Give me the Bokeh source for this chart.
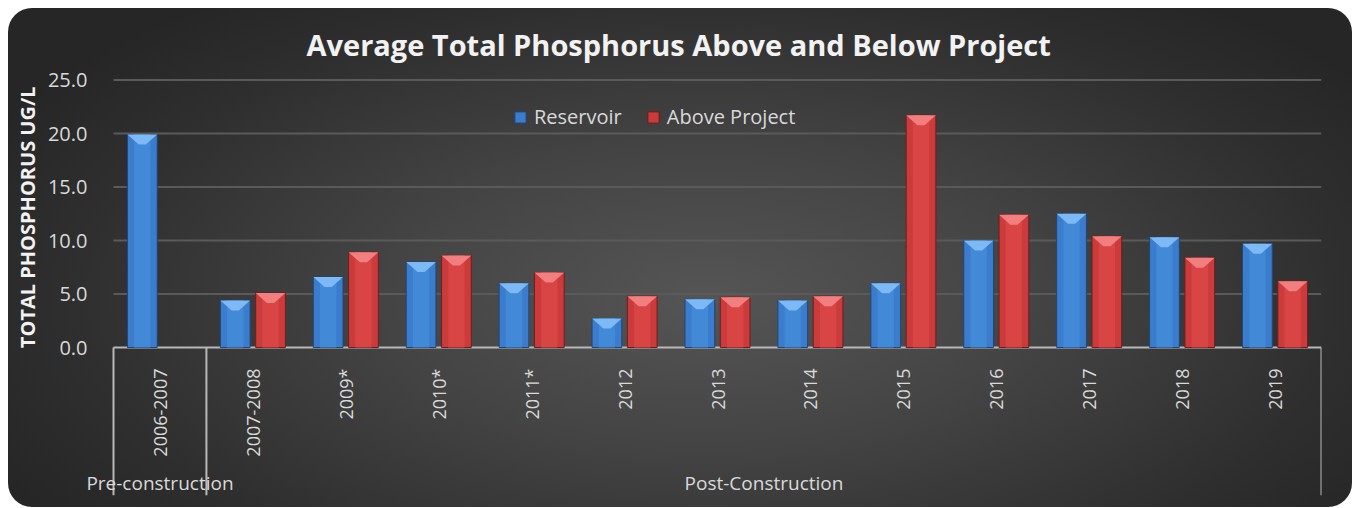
import math
from bokeh.plotting import figure
from bokeh.models import (Range1d, FixedTicker, NumeralTickFormatter, LinearAxis,
                          Legend, LegendItem, Title, ColumnDataSource)
from bokeh.embed import file_html
from bokeh.resources import INLINE

# ---------------- data ----------------
periods = ["2006-2007", "2007-2008", "2009*", "2010*", "2011*", "2012", "2013",
           "2014", "2015", "2016", "2017", "2018", "2019"]
phases = ["Pre-construction"] + ["Post-Construction"] * 12
reservoir = [19.9, 4.4, 6.6, 8.0, 6.0, 2.7, 4.5, 4.4, 6.0, 10.0, 12.5, 10.3, 9.7]
above_project = [None, 5.1, 8.9, 8.6, 7.0, 4.8, 4.7, 4.8, 21.7, 12.4, 10.4, 8.4, 6.2]
y_ticks = [0, 5, 10, 15, 20, 25]

TITLE = "Average Total Phosphorus Above and Below Project"
Y_LABEL = "TOTAL PHOSPHORUS UG/L"
FONT = "Open Sans"

# ---------------- layout constants ----------------
W, H = 1344, 499
B_LEFT, B_RIGHT, B_TOP, B_BOTTOM = 35, 31, 63, 12
TOP_PAD_PX = 8                   # room above the 25.0 gridline
GRID_PX = 268                    # pixels from 0 to the top tick
BELOW_PX = 148                   # category area below 0
CAT_PX = 1208                    # pixels spanned by all categories
TOP_TICK = 25.05
frame_w = W - B_LEFT - B_RIGHT
ppu = GRID_PX / TOP_TICK         # pixels per y unit
Y_MAX = TOP_TICK + TOP_PAD_PX / ppu
Y_MIN = -BELOW_PX / ppu
n = len(periods)
X_MIN = -(frame_w - CAT_PX) / (CAT_PX / n)
OFF = 0.19                       # dodge offset (fraction of category)
BW = 0.32                        # bar width (fraction of category)

p = figure(x_range=Range1d(X_MIN, n), y_range=Range1d(Y_MIN, Y_MAX), width=W, height=H,
           output_backend="svg", toolbar_location=None, title=TITLE,
           min_border_left=B_LEFT, min_border_right=B_RIGHT,
           min_border_top=B_TOP, min_border_bottom=B_BOTTOM)

p.styles = {
    "margin-left": "8px",
    "margin-top": "8px",
    "background": "radial-gradient(ellipse 60% 75% at 52% 58%, #555555 0%, #444444 40%, #2e2e2e 80%, #262626 100%)",
    "border-radius": "24px",
    "overflow": "hidden",
}
p.background_fill_alpha = 0
p.border_fill_alpha = 0
p.outline_line_color = None
p.xgrid.visible = False
p.ygrid.visible = False

# title
p.title.text_font = FONT
p.title.text_font_size = "29px"
p.title.text_font_style = "bold"
p.title.text_color = "#f2f2f2"
p.title.align = "left"
p.title.offset = 263
p.title.standoff = 15

# ---------------- category geometry ----------------
centers = [i + 0.5 for i in range(n)]
bounds = [0] + [i for i in range(1, n) if phases[i] != phases[i - 1]] + [n]
group_names = [phases[b] for b in bounds[:-1]]
group_centers = [(a + b) / 2 for a, b in zip(bounds[:-1], bounds[1:])]

# ---------------- y axis (at first category boundary) ----------------
ya = p.yaxis[0]
ya.fixed_location = 0
ya.ticker = FixedTicker(ticks=y_ticks)
ya.formatter = NumeralTickFormatter(format="0.0")
ya.axis_line_color = None
ya.major_tick_line_color = None
ya.minor_tick_line_color = None
ya.major_label_text_font = FONT
ya.major_label_text_font_size = "20px"
ya.major_label_text_color = "#d9d9d9"
ya.major_label_standoff = 20

ylab = Title(text=Y_LABEL, align="right", offset=7 + TOP_PAD_PX, standoff=6,
             text_font=FONT, text_font_size="20px", text_font_style="bold",
             text_color="#f2f2f2")
p.add_layout(ylab, "left")

# gridlines
grid_y = [t for t in y_ticks if t > 0]
p.segment(x0=[0] * len(grid_y), y0=grid_y, x1=[n] * len(grid_y), y1=grid_y,
          line_color="#5a5a5a", line_width=2)

# ---------------- x axes (drawn at value 0) ----------------
xa = p.xaxis[0]
xa.fixed_location = 0
xa.ticker = FixedTicker(ticks=centers)
xa.major_label_overrides = {c: lab for c, lab in zip(centers, periods)}
xa.axis_line_color = None
xa.major_tick_line_color = None
xa.minor_tick_line_color = None
xa.major_label_orientation = math.pi / 2
xa.major_label_text_font = FONT
xa.major_label_text_font_size = "18px"
xa.major_label_text_color = "#d9d9d9"
xa.major_label_standoff = 15

ga = LinearAxis(fixed_location=0, ticker=FixedTicker(ticks=group_centers),
                major_label_overrides={c: g for c, g in zip(group_centers, group_names)},
                axis_line_color=None, major_tick_line_color=None,
                minor_tick_line_color=None, major_label_standoff=116,
                major_label_text_font=FONT, major_label_text_font_size="19px",
                major_label_text_color="#d9d9d9")
p.add_layout(ga, "below")

# axis line and full-depth group separators
p.segment(x0=[0], y0=[0], x1=[n], y1=[0], line_color="#b8b8b8", line_width=2)
p.segment(x0=bounds, y0=[0] * len(bounds), x1=bounds, y1=[Y_MIN] * len(bounds),
          line_color="#b8b8b8", line_width=2)

# ---------------- bars ----------------
res_src = ColumnDataSource(dict(x=[c - OFF for c in centers], top=reservoir))
ab_x = [c + OFF for c, v in zip(centers, above_project) if v is not None]
ab_v = [v for v in above_project if v is not None]
ab_src = ColumnDataSource(dict(x=ab_x, top=ab_v))

r_res = p.vbar(x="x", top="top", bottom=0, width=BW, source=res_src,
               fill_color="#3b7dcc", line_color="#1f4778", line_width=1)
r_ab = p.vbar(x="x", top="top", bottom=0, width=BW, source=ab_src,
              fill_color="#cc3b3b", line_color="#6e1e1e", line_width=1)

# lighter centre stripe (fake gradient)
p.vbar(x="x", top="top", bottom=0, width=BW * 0.55, source=res_src,
       fill_color="#4289d8", line_color=None)
p.vbar(x="x", top="top", bottom=0, width=BW * 0.55, source=ab_src,
       fill_color="#d94444", line_color=None)

# bevel on top of each bar
bev = 10 / ppu
def bevels(xs_c, values):
    xs, ys = [], []
    for c, v in zip(xs_c, values):
        xs.append([c - BW / 2, c + BW / 2, c + BW * 0.12, c - BW * 0.12])
        ys.append([v, v, v - bev, v - bev])
    return xs, ys

bx, by = bevels(res_src.data["x"], reservoir)
p.patches(bx, by, fill_color="#7db9f4", line_color=None)
bx, by = bevels(ab_x, ab_v)
p.patches(bx, by, fill_color="#f27f7f", line_color=None)

# ---------------- legend ----------------
legend = Legend(items=[LegendItem(label="Reservoir", renderers=[r_res]),
                       LegendItem(label="Above Project", renderers=[r_ab])],
                location=(400 + (frame_w - CAT_PX), 217 + BELOW_PX),
                orientation="horizontal",
                background_fill_alpha=0, border_line_alpha=0,
                label_text_color="#d9d9d9", label_text_font=FONT,
                label_text_font_size="20px", glyph_width=14, glyph_height=14,
                spacing=24, label_standoff=7, padding=0, margin=0)
p.add_layout(legend)

open("out.html", "w").write(file_html(p, INLINE))
